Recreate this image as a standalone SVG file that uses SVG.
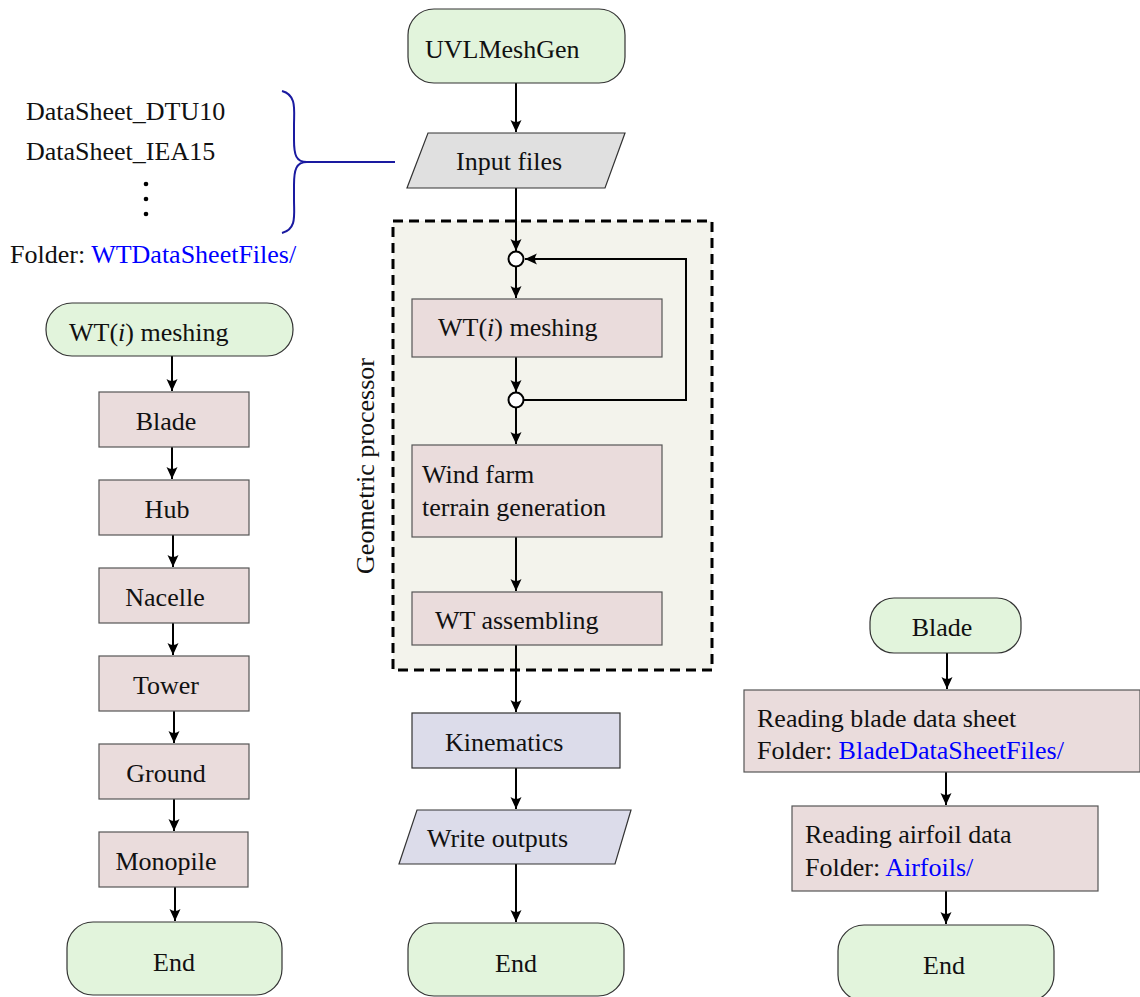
<svg xmlns="http://www.w3.org/2000/svg" width="1140" height="997" viewBox="0 0 1140 997">
<style>
text{font-family:"Liberation Serif","Times New Roman",serif;font-size:26px;fill:#111}
.term{fill:#e2f4dc;stroke:#333;stroke-width:1.2}
.proc{fill:#eadcdc;stroke:#555;stroke-width:1.2}
.kin{fill:#dcdcea;stroke:#333;stroke-width:1.2}
.io{fill:#e0e0e0;stroke:#333;stroke-width:1.2}
.link{fill:#0000ff}
.c{stroke:#000;stroke-width:2;fill:none}
.m{text-anchor:middle}
</style>
<defs>
<marker id="ah" markerUnits="userSpaceOnUse" markerWidth="14" markerHeight="12" refX="12" refY="6" orient="auto">
<path d="M0,0.5 Q4,6 0,11.5 L12,6 Z" fill="#000"/>
</marker>
</defs>

<g id="geom-processor">
<rect x="393" y="221" width="319" height="449" fill="#f3f3ec" stroke="#000" stroke-width="3" stroke-dasharray="10,6"/>
<text transform="translate(374,466) rotate(-90)" class="m">Geometric processor</text>
</g>

<g id="connectors">
<line class="c" x1="516" y1="83" x2="516" y2="132" marker-end="url(#ah)"/>
<line class="c" x1="516" y1="188" x2="516" y2="251" marker-end="url(#ah)"/>
<line class="c" x1="516" y1="267" x2="516" y2="298" marker-end="url(#ah)"/>
<line class="c" x1="516" y1="357" x2="516" y2="392" marker-end="url(#ah)"/>
<line class="c" x1="516" y1="408" x2="516" y2="444" marker-end="url(#ah)"/>
<polyline class="c" points="524,400 686,400 686,259 525,259" marker-end="url(#ah)"/>
<line class="c" x1="516" y1="537" x2="516" y2="591" marker-end="url(#ah)"/>
<line class="c" x1="516" y1="645" x2="516" y2="712" marker-end="url(#ah)"/>
<line class="c" x1="516" y1="768" x2="516" y2="809" marker-end="url(#ah)"/>
<line class="c" x1="516" y1="864" x2="516" y2="922" marker-end="url(#ah)"/>

<line class="c" x1="172" y1="356" x2="172" y2="391" marker-end="url(#ah)"/>
<line class="c" x1="172" y1="447" x2="172" y2="479" marker-end="url(#ah)"/>
<line class="c" x1="173" y1="535" x2="173" y2="567" marker-end="url(#ah)"/>
<line class="c" x1="173" y1="623" x2="173" y2="655" marker-end="url(#ah)"/>
<line class="c" x1="174" y1="711" x2="174" y2="743" marker-end="url(#ah)"/>
<line class="c" x1="174" y1="799" x2="174" y2="831" marker-end="url(#ah)"/>
<line class="c" x1="175" y1="887" x2="175" y2="921" marker-end="url(#ah)"/>

<line class="c" x1="947" y1="653" x2="947" y2="689" marker-end="url(#ah)"/>
<line class="c" x1="946" y1="772" x2="946" y2="805" marker-end="url(#ah)"/>
<line class="c" x1="946" y1="891" x2="946" y2="924" marker-end="url(#ah)"/>

<path d="M282,91 C297,95 294,110 294,125 L294,140 C294,155 296,162 307,162 L395,162 M307,162 C296,162 294,170 294,185 L294,200 C294,215 297,229 282,233" fill="none" stroke="#1a1aa0" stroke-width="2"/>
</g>

<g id="datasheets">
<text x="26" y="120">DataSheet_DTU10</text>
<text x="26" y="160">DataSheet_IEA15</text>
<circle cx="146" cy="184" r="2.3" fill="#000"/>
<circle cx="146" cy="199" r="2.3" fill="#000"/>
<circle cx="146" cy="214" r="2.3" fill="#000"/>
<text x="10" y="263">Folder: <tspan class="link">WTDataSheetFiles/</tspan></text>
</g>

<g id="uvlmeshgen">
<rect class="term" x="408" y="9" width="217" height="74" rx="26"/>
<text x="425" y="58">UVLMeshGen</text>
</g>

<g id="input-files">
<polygon class="io" points="428,133 625,133 605,188 407,188"/>
<text x="456" y="170">Input files</text>
</g>

<g id="junction1"><circle cx="516" cy="259" r="7.5" fill="#fff" stroke="#000" stroke-width="2"/></g>
<g id="junction2"><circle cx="516" cy="400" r="7.5" fill="#fff" stroke="#000" stroke-width="2"/></g>

<g id="wt-meshing">
<rect class="proc" x="412" y="299" width="250" height="58"/>
<text x="438" y="336">WT(<tspan font-style="italic">i</tspan>) meshing</text>
</g>

<g id="wind-farm">
<rect class="proc" x="412" y="445" width="250" height="92"/>
<text x="422" y="483">Wind farm</text>
<text x="422" y="516">terrain generation</text>
</g>

<g id="wt-assembling">
<rect class="proc" x="412" y="592" width="250" height="53"/>
<text x="435" y="629">WT assembling</text>
</g>

<g id="kinematics">
<rect class="kin" x="412" y="713" width="208" height="55"/>
<text x="445" y="751">Kinematics</text>
</g>

<g id="write-outputs">
<polygon class="kin" points="417,810 631,810 615,864 399,864"/>
<text x="427" y="847">Write outputs</text>
</g>

<g id="end-main">
<rect class="term" x="408" y="923" width="216" height="73" rx="26"/>
<text x="516" y="972" class="m">End</text>
</g>

<g id="wt-meshing-start">
<rect class="term" x="46" y="303" width="247" height="53" rx="26"/>
<text x="69" y="341">WT(<tspan font-style="italic">i</tspan>) meshing</text>
</g>

<g id="blade-l"><rect class="proc" x="99" y="392" width="150" height="55"/><text x="166" y="430" class="m">Blade</text></g>
<g id="hub"><rect class="proc" x="99" y="480" width="150" height="55"/><text x="167" y="518" class="m">Hub</text></g>
<g id="nacelle"><rect class="proc" x="99" y="568" width="150" height="55"/><text x="165" y="606" class="m">Nacelle</text></g>
<g id="tower"><rect class="proc" x="99" y="656" width="150" height="55"/><text x="166" y="694" class="m">Tower</text></g>
<g id="ground"><rect class="proc" x="99" y="744" width="150" height="55"/><text x="166" y="782" class="m">Ground</text></g>
<g id="monopile"><rect class="proc" x="99" y="832" width="149" height="55"/><text x="166" y="870" class="m">Monopile</text></g>

<g id="end-left">
<rect class="term" x="67" y="922" width="215" height="73" rx="26"/>
<text x="174" y="971" class="m">End</text>
</g>

<g id="blade-r">
<rect class="term" x="870" y="598" width="151" height="55" rx="24"/>
<text x="942" y="636" class="m">Blade</text>
</g>

<g id="reading-blade">
<rect class="proc" x="744" y="690" width="396" height="82"/>
<text x="757" y="727">Reading blade data sheet</text>
<text x="757" y="759">Folder: <tspan class="link">BladeDataSheetFiles/</tspan></text>
</g>

<g id="reading-airfoil">
<rect class="proc" x="792" y="806" width="306" height="85"/>
<text x="805" y="843">Reading airfoil data</text>
<text x="805" y="876">Folder: <tspan class="link">Airfoils/</tspan></text>
</g>

<g id="end-right">
<rect class="term" x="838" y="925" width="216" height="76" rx="26"/>
<text x="944" y="974" class="m">End</text>
</g>
</svg>
